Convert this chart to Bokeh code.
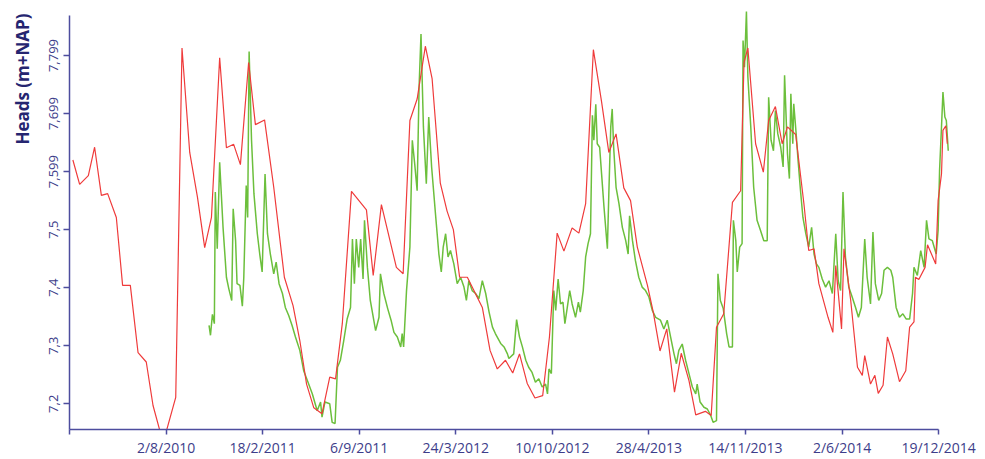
import pandas as pd
from bokeh.plotting import figure
from bokeh.models import FixedTicker, Range1d, ColumnDataSource, Title
from bokeh.embed import file_html
from bokeh.resources import INLINE

# ---------------- data ----------------
t0 = "2010-01-14"   # day 0 of the series (first x tick)

x_tick_dates = ["14/1/2010", "2/8/2010", "18/2/2011", "6/9/2011", "24/3/2012",
                "10/10/2012", "28/4/2013", "14/11/2013", "2/6/2014", "19/12/2014"]
x_tick_labels = ["", "2/8/2010", "18/2/2011", "6/9/2011", "24/3/2012",
                 "10/10/2012", "28/4/2013", "14/11/2013", "2/6/2014", "19/12/2014"]

y_ticks = [7.2, 7.3, 7.4, 7.5, 7.6, 7.7, 7.8]
y_tick_labels = ["7,2", "7,3", "7,4", "7,5", "7,599", "7,699", "7,799"]
y_title = "Heads (m+NAP)"

# red series (days since t0, head in m+NAP)
red_day = [7, 21, 39, 52, 66, 79, 97, 110, 126, 142,
           159, 173, 188, 200, 220, 233, 249, 265, 280, 294,
           311, 325, 340, 354, 371, 385, 404, 423, 445, 463,
           477, 491, 506, 523, 539, 551, 565, 584, 615, 629,
           646, 677, 691, 705, 720, 737, 751, 768, 782, 795,
           808, 824, 855, 871, 886, 903, 918, 932, 948, 964,
           980, 994, 1010, 1024, 1041, 1055, 1069, 1085, 1102, 1117,
           1132, 1148, 1162, 1176, 1197, 1209, 1223, 1237, 1253, 1267,
           1283, 1297, 1317, 1329, 1340, 1355, 1373, 1390, 1397, 1405,
           1421, 1437, 1448, 1462, 1476, 1487, 1504, 1521, 1531, 1542,
           1552, 1571, 1581, 1587, 1599, 1604, 1618, 1632, 1642, 1647,
           1659, 1668, 1675, 1685, 1694, 1705, 1719, 1732, 1740, 1749,
           1752, 1759, 1772, 1777, 1794, 1799, 1806, 1809, 1815, 1818]
red_head = [7.620, 7.578, 7.593, 7.642, 7.559, 7.562, 7.521, 7.404, 7.404, 7.288,
            7.272, 7.197, 7.151, 7.151, 7.211, 7.813, 7.633, 7.556, 7.469, 7.521,
            7.796, 7.641, 7.647, 7.612, 7.788, 7.681, 7.689, 7.573, 7.418, 7.369,
            7.309, 7.234, 7.193, 7.183, 7.246, 7.243, 7.338, 7.566, 7.534, 7.421,
            7.543, 7.435, 7.424, 7.688, 7.725, 7.816, 7.760, 7.580, 7.532, 7.500,
            7.418, 7.418, 7.366, 7.292, 7.260, 7.275, 7.253, 7.286, 7.235, 7.210,
            7.214, 7.315, 7.494, 7.463, 7.503, 7.494, 7.545, 7.810, 7.720, 7.633,
            7.665, 7.572, 7.550, 7.470, 7.404, 7.358, 7.291, 7.329, 7.220, 7.287,
            7.240, 7.181, 7.187, 7.180, 7.332, 7.355, 7.547, 7.567, 7.788, 7.813,
            7.648, 7.599, 7.688, 7.712, 7.648, 7.677, 7.664, 7.545, 7.464, 7.467,
            7.407, 7.349, 7.323, 7.438, 7.329, 7.467, 7.378, 7.263, 7.249, 7.283,
            7.234, 7.249, 7.218, 7.232, 7.315, 7.286, 7.238, 7.257, 7.332, 7.341,
            7.418, 7.414, 7.435, 7.474, 7.441, 7.550, 7.596, 7.671, 7.679, 7.648]

# green series (days since t0, head in m+NAP)
green_day = [289, 292, 296, 300, 302, 306, 311, 318, 325, 330,
             336, 339, 344, 347, 353, 358, 361, 366, 369, 372,
             377, 382, 389, 394, 399, 405, 410, 416, 423, 428,
             434, 441, 447, 454, 461, 468, 477, 485, 494, 503,
             513, 520, 523, 529, 539, 544, 550, 555, 561, 568,
             575, 582, 586, 590, 594, 599, 603, 608, 611, 617,
             623, 634, 641, 644, 651, 659, 666, 672, 679, 686,
             689, 692, 698, 705, 710, 715, 720, 724, 728, 733,
             739, 744, 750, 758, 765, 770, 774, 779, 784, 789,
             796, 803, 810, 817, 822, 827, 834, 841, 848, 855,
             862, 869, 876, 882, 893, 900, 907, 910, 920, 926,
             932, 938, 945, 951, 958, 965, 972, 979, 986, 990,
             993, 998, 1003, 1007, 1012, 1017, 1022, 1026, 1031, 1036,
             1041, 1048, 1054, 1058, 1064, 1069, 1074, 1079, 1083, 1086,
             1090, 1093, 1098, 1102, 1107, 1114, 1117, 1121, 1124, 1127,
             1132, 1138, 1145, 1152, 1157, 1160, 1166, 1172, 1179, 1186,
             1193, 1200, 1207, 1214, 1224, 1231, 1238, 1245, 1252, 1257,
             1262, 1269, 1276, 1283, 1290, 1297, 1300, 1306, 1314, 1321,
             1328, 1333, 1340, 1343, 1348, 1354, 1361, 1366, 1373, 1375,
             1380, 1383, 1388, 1393, 1395, 1398, 1402, 1405, 1411, 1417,
             1424, 1431, 1438, 1445, 1448, 1453, 1458, 1462, 1467, 1473,
             1478, 1481, 1487, 1491, 1494, 1498, 1500, 1505, 1509, 1514,
             1519, 1525, 1531, 1537, 1542, 1547, 1552, 1559, 1566, 1573,
             1580, 1587, 1592, 1597, 1602, 1607, 1614, 1621, 1628, 1634,
             1640, 1647, 1652, 1659, 1664, 1669, 1676, 1682, 1687, 1694,
             1701, 1705, 1712, 1719, 1726, 1733, 1740, 1746, 1749, 1756,
             1763, 1770, 1775, 1780, 1787, 1795, 1799, 1802, 1806, 1809,
             1813, 1816, 1820]
green_head = [7.335, 7.318, 7.354, 7.338, 7.565, 7.467, 7.616, 7.504, 7.418, 7.398,
              7.378, 7.536, 7.481, 7.407, 7.404, 7.368, 7.418, 7.576, 7.521, 7.807,
              7.654, 7.562, 7.493, 7.458, 7.427, 7.596, 7.493, 7.458, 7.424, 7.444,
              7.407, 7.390, 7.366, 7.352, 7.335, 7.315, 7.292, 7.257, 7.237, 7.217,
              7.188, 7.203, 7.177, 7.203, 7.200, 7.168, 7.166, 7.263, 7.275, 7.309,
              7.346, 7.366, 7.484, 7.407, 7.484, 7.435, 7.484, 7.415, 7.516, 7.435,
              7.378, 7.326, 7.349, 7.424, 7.390, 7.364, 7.344, 7.323, 7.315, 7.298,
              7.321, 7.298, 7.395, 7.470, 7.654, 7.613, 7.567, 7.745, 7.837, 7.677,
              7.579, 7.694, 7.608, 7.527, 7.458, 7.427, 7.470, 7.493, 7.453, 7.464,
              7.441, 7.407, 7.418, 7.401, 7.378, 7.412, 7.395, 7.390, 7.381, 7.412,
              7.390, 7.358, 7.332, 7.321, 7.304, 7.298, 7.286, 7.278, 7.286, 7.345,
              7.315, 7.298, 7.275, 7.263, 7.254, 7.237, 7.243, 7.229, 7.234, 7.217,
              7.260, 7.252, 7.395, 7.361, 7.415, 7.372, 7.375, 7.338, 7.366, 7.395,
              7.372, 7.349, 7.375, 7.358, 7.395, 7.453, 7.476, 7.493, 7.697, 7.654,
              7.716, 7.648, 7.642, 7.596, 7.539, 7.467, 7.562, 7.677, 7.708, 7.642,
              7.573, 7.545, 7.504, 7.481, 7.458, 7.524, 7.481, 7.447, 7.418, 7.401,
              7.395, 7.384, 7.361, 7.349, 7.344, 7.329, 7.344, 7.315, 7.286, 7.269,
              7.292, 7.303, 7.275, 7.252, 7.229, 7.217, 7.234, 7.203, 7.194, 7.191,
              7.180, 7.168, 7.171, 7.424, 7.378, 7.364, 7.321, 7.298, 7.298, 7.516,
              7.481, 7.427, 7.470, 7.476, 7.826, 7.780, 7.876, 7.763, 7.677, 7.573,
              7.516, 7.499, 7.481, 7.481, 7.728, 7.654, 7.636, 7.705, 7.665, 7.642,
              7.608, 7.766, 7.631, 7.588, 7.734, 7.648, 7.717, 7.665, 7.619, 7.567,
              7.521, 7.493, 7.470, 7.504, 7.458, 7.441, 7.435, 7.415, 7.401, 7.412,
              7.390, 7.493, 7.412, 7.395, 7.565, 7.453, 7.401, 7.384, 7.366, 7.349,
              7.366, 7.484, 7.418, 7.372, 7.496, 7.407, 7.378, 7.390, 7.430, 7.435,
              7.430, 7.418, 7.366, 7.349, 7.355, 7.346, 7.346, 7.390, 7.435, 7.421,
              7.464, 7.435, 7.516, 7.484, 7.481, 7.458, 7.499, 7.602, 7.677, 7.737,
              7.694, 7.688, 7.636]

# ---------------- build ----------------
start = pd.Timestamp(t0)
epoch = pd.Timestamp("1970-01-01")


def to_ms(ts):
    return float((ts - epoch) / pd.Timedelta(milliseconds=1))


red_src = ColumnDataSource(dict(
    date=[start + pd.Timedelta(days=d) for d in red_day], head=red_head))
green_src = ColumnDataSource(dict(
    date=[start + pd.Timedelta(days=d) for d in green_day], head=green_head))

tick_ts = [pd.to_datetime(s, dayfirst=True) for s in x_tick_dates]
tick_ms = [to_ms(t) for t in tick_ts]

AXIS = "#4d4d9e"
TEXT = "#3d3d8a"
TITLE = "#252570"
FONT = "Open Sans"

Y0, Y1 = 7.1557, 7.881

p = figure(width=980, height=459, x_axis_type="datetime",
           output_backend="svg", toolbar_location=None,
           x_range=Range1d(start, start + pd.Timedelta(days=1835)),
           y_range=Range1d(Y0, Y1),
           min_border_left=69, min_border_right=25,
           min_border_top=8, min_border_bottom=30)
p.outline_line_color = None
p.xgrid.visible = False
p.ygrid.visible = False
p.background_fill_color = "white"
p.border_fill_color = "white"

xa = p.xaxis[0]
xa.ticker = FixedTicker(ticks=tick_ms)
xa.major_label_overrides = {m: lab for m, lab in zip(tick_ms, x_tick_labels)}
xa.bounds = (tick_ts[0], tick_ts[-1])
xa.axis_line_color = AXIS
xa.axis_line_width = 1.5
xa.major_tick_line_color = AXIS
xa.major_tick_line_width = 1.5
xa.major_tick_out = 5
xa.major_tick_in = 0
xa.minor_tick_out = 0
xa.minor_tick_in = 0
xa.major_label_text_font = FONT
xa.major_label_text_font_size = "14px"
xa.major_label_text_color = TEXT
xa.major_label_standoff = 3

ya = p.yaxis[0]
ya.ticker = FixedTicker(ticks=y_ticks)
ya.major_label_overrides = {v: lab for v, lab in zip(y_ticks, y_tick_labels)}
ya.bounds = (Y0, 7.869)
ya.axis_line_color = AXIS
ya.axis_line_width = 1.5
ya.major_tick_line_color = AXIS
ya.major_tick_line_width = 1.5
ya.major_tick_out = 6
ya.major_tick_in = 0
ya.minor_tick_out = 0
ya.minor_tick_in = 0
ya.major_label_orientation = "vertical"
ya.major_label_text_font = FONT
ya.major_label_text_font_size = "13px"
ya.major_label_text_color = TEXT
ya.major_label_standoff = 5
# blank spacer label: widens the axis panel so the title sits further left
ya.axis_label = " "
ya.axis_label_text_font_size = "1px"
ya.axis_label_standoff = 9

ytitle = Title(text=y_title, align="right", offset=5, standoff=0,
               text_font=FONT, text_font_style="bold", text_font_size="17px",
               text_color=TITLE)
p.add_layout(ytitle, "left")

p.line(x="date", y="head", source=green_src, line_color="#6cbf3c", line_width=1.5)
p.line(x="date", y="head", source=red_src, line_color="#ef3b3b", line_width=1.2)

open("out.html", "w").write(file_html(p, INLINE))
